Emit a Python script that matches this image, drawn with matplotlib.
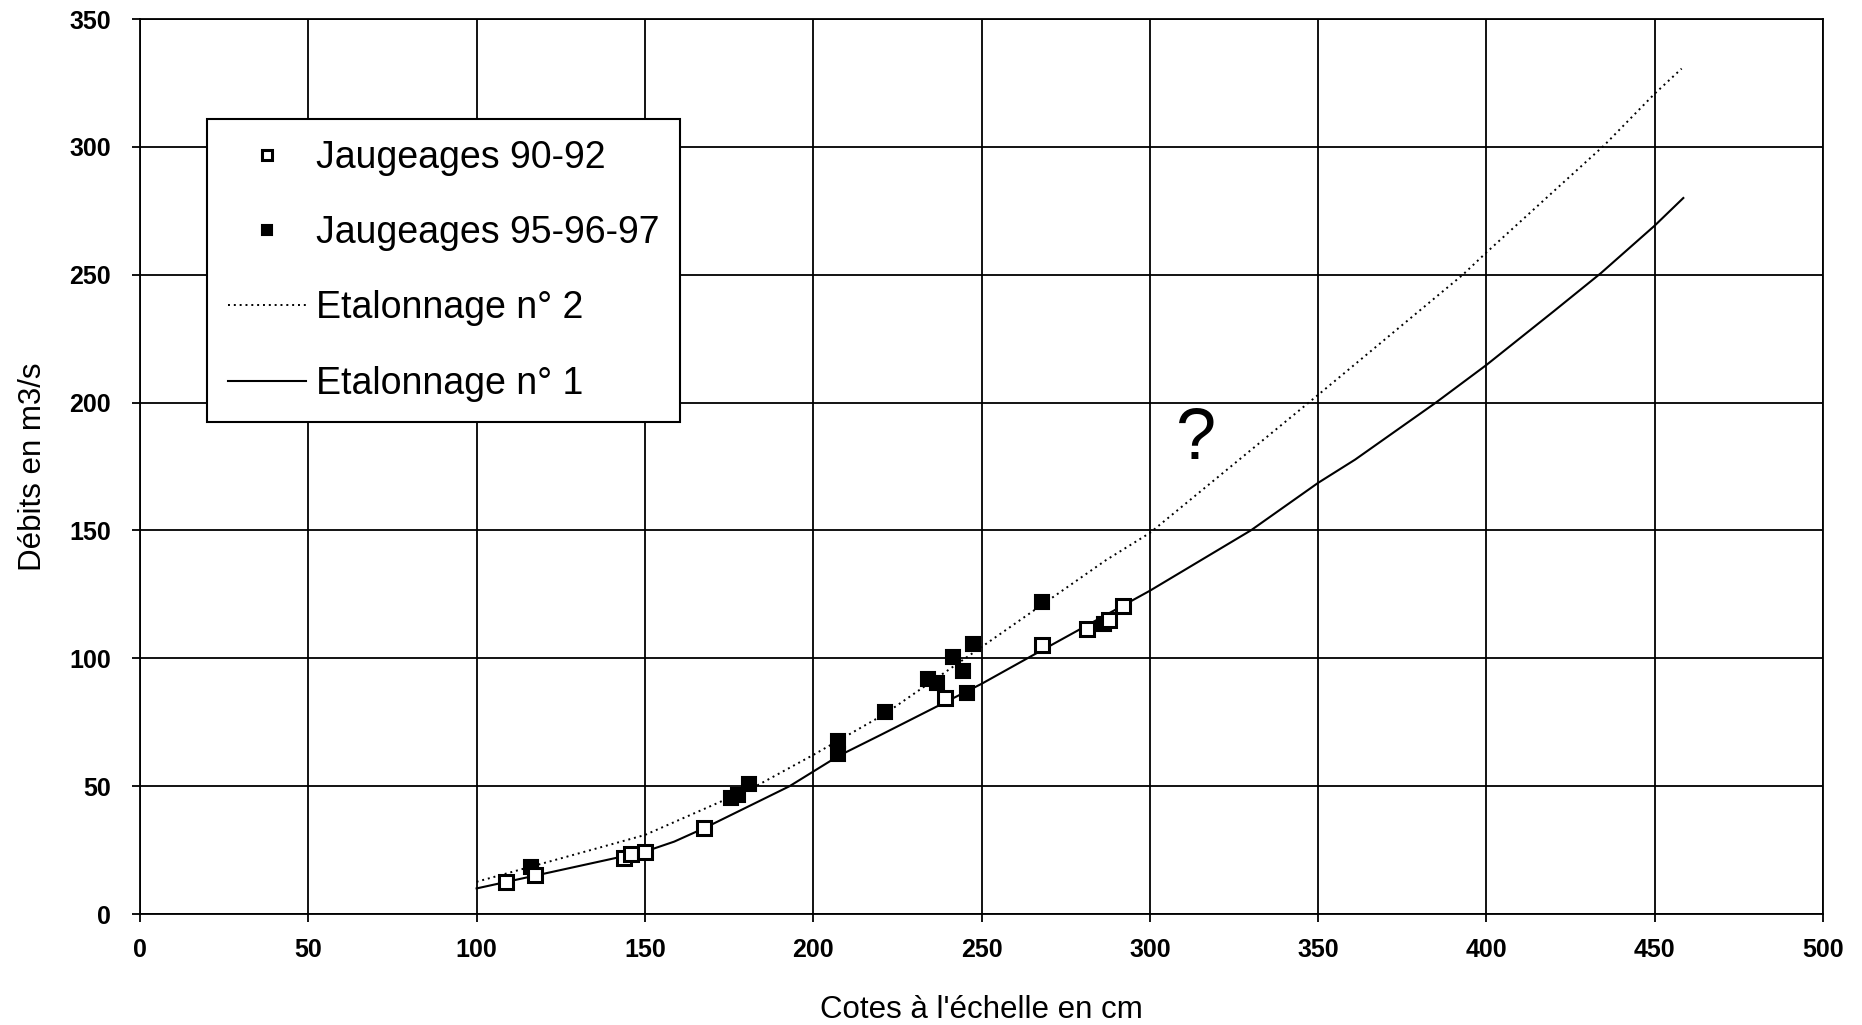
import numpy as np
import matplotlib
matplotlib.use("Agg")
import matplotlib.pyplot as plt

plt.rcParams['font.family'] = ['Liberation Sans', 'DejaVu Sans']

# Jaugeages 90-92 (carres vides)
cote_90 = [108.6, 117.3, 143.9, 146.0, 150.0, 167.7, 239.2, 268.0, 281.3, 287.9, 292.0]
debit_90 = [12.6, 15.2, 21.8, 23.3, 24.4, 33.8, 84.5, 105.2, 111.5, 115.0, 120.5]

# Jaugeages 95-96-97 (carres pleins)
cote_95 = [116.3, 175.7, 177.8, 180.8, 207.5, 207.5, 221.2, 234.1, 236.8, 241.5,
           244.5, 245.7, 247.5, 268.0, 286.5]
debit_95 = [18.5, 45.2, 46.5, 50.8, 67.5, 62.5, 79.0, 91.9, 90.3, 100.5,
            95.0, 86.4, 105.6, 122.0, 113.5]

# Etalonnage n° 1 (trait plein)
cote_e1 = [100, 150, 158.7, 168, 193, 207.5, 220, 250, 265, 300, 330, 350, 361, 385,
           400, 420, 434, 450, 458.5]
debit_e1 = [10.0, 24.4, 28.3, 33.8, 50.0, 61.8, 70.0, 90.0, 101.0, 126.4, 150.0,
            168.6, 177.7, 200.0, 214.7, 235.7, 250.6, 269.2, 280.0]

# Etalonnage n° 2 (pointilles)
cote_e2 = [100, 150, 183, 200, 221, 250, 287, 300, 350, 393, 400, 435, 450, 458]
debit_e2 = [12.6, 30.9, 50.0, 62.2, 78.0, 104.4, 138.4, 149.0, 203.0, 250.0,
            258.7, 300.6, 320.8, 330.6]

fig = plt.figure(figsize=(18.62, 10.25), dpi=100)
ax = fig.add_axes([140 / 1862, 1 - 914 / 1025, 1683 / 1862, 895 / 1025])

l2, = ax.plot(cote_e2, debit_e2, color='black', lw=1.4, linestyle=(0, (1, 2)),
              label='Etalonnage n° 2', zorder=3)
l1, = ax.plot(cote_e1, debit_e1, color='black', lw=1.5, label='Etalonnage n° 1', zorder=3)
p95, = ax.plot(cote_95, debit_95, 's', color='black', ms=9.5, mew=1.5,
               label='Jaugeages 95-96-97', zorder=4)
p90, = ax.plot(cote_90, debit_90, 's', mfc='white', mec='black', ms=10, mew=2.2,
               label='Jaugeages 90-92', zorder=5)

ax.text(313.7, 185, '?', fontsize=52, ha='center', va='center')

ax.set_xlim(0, 500)
ax.set_ylim(0, 350)
ax.set_xticks(np.arange(0, 501, 50))
ax.set_yticks(np.arange(0, 351, 50))
ax.grid(True, color='black', lw=1.3)
for s in ax.spines.values():
    s.set_linewidth(1.3)
ax.tick_params(direction='out', length=6, width=1.3, labelsize=18)
ax.tick_params(axis='x', pad=11)
ax.tick_params(axis='y', pad=15)
for t in ax.get_xticklabels() + ax.get_yticklabels():
    t.set_fontweight('bold')

ax.set_xlabel("Cotes à l'échelle en cm", fontsize=22.5, labelpad=24)
ax.set_ylabel("Débits en m3/s", fontsize=22.5, labelpad=15)

leg = ax.legend(handles=[p90, p95, l2, l1], loc='upper left',
                bbox_to_anchor=((207 - 140) / 1683, (914 - 119) / 895),
                fontsize=27, frameon=True, fancybox=False, framealpha=1,
                edgecolor='black', borderpad=0.55, labelspacing=1.05,
                handlelength=2.1, handletextpad=0.25, borderaxespad=0,
                markerscale=0.75)
leg.get_frame().set_linewidth(1.5)
leg.set_zorder(10)

fig.savefig('out.png', dpi=100)
